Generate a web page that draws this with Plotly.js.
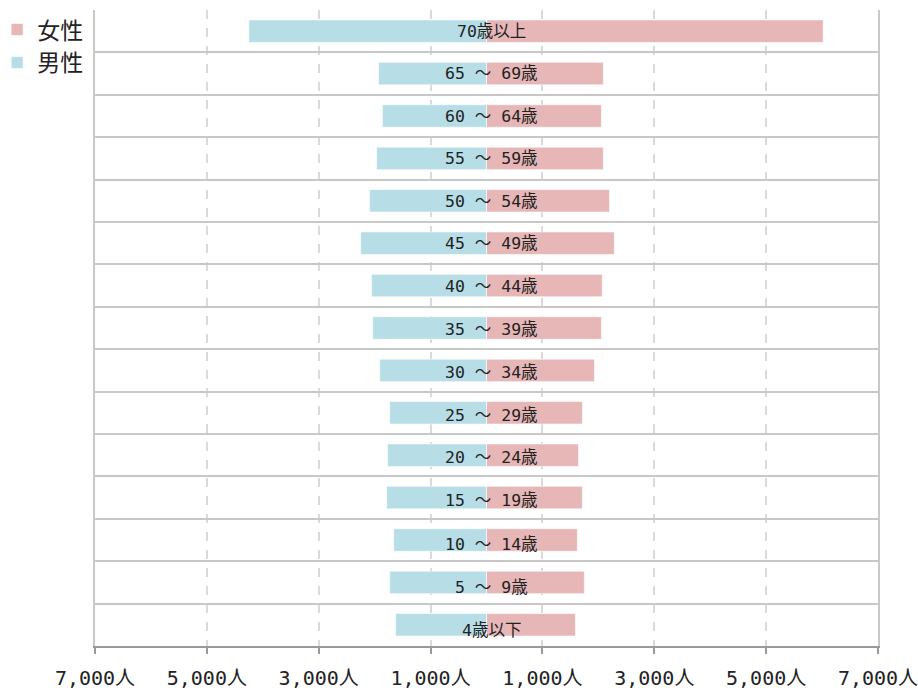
<!DOCTYPE html>
<html>
<head>
<meta charset="utf-8">
<script src="https://cdn.plot.ly/plotly-3.0.1.min.js"></script>
<style>html,body{margin:0;padding:0;background:#fff;}#chart{width:918px;height:691px;}</style>
</head>
<body>
<div id="chart"></div>
<script>
const ageGroups = ["70歳以上","65 ～ 69歳","60 ～ 64歳","55 ～ 59歳","50 ～ 54歳","45 ～ 49歳","40 ～ 44歳","35 ～ 39歳","30 ～ 34歳","25 ～ 29歳","20 ～ 24歳","15 ～ 19歳","10 ～ 14歳","5 ～ 9歳","4歳以下"];
const female = [6020, 2090, 2055, 2090, 2200, 2285, 2070, 2055, 1930, 1715, 1645, 1715, 1625, 1750, 1590];
const male = [4250, 1930, 1860, 1965, 2090, 2250, 2055, 2035, 1910, 1730, 1770, 1785, 1660, 1730, 1625];
const tickValues = [-7000, -5000, -3000, -1000, 1000, 3000, 5000, 7000];
const tickLabels = ["7,000人","5,000人","3,000人","1,000人","1,000人","3,000人","5,000人","7,000人"];
const seriesNames = ["女性","男性"];

const yIdx = ageGroups.map((_, i) => i);
const monoFont = "'DejaVu Sans Mono', 'Noto Sans CJK JP', monospace";

const traces = [
  {
    type: 'bar', orientation: 'h', name: seriesNames[0],
    x: female, y: yIdx, width: 0.53,
    marker: {color: '#e7b6b7', line: {color: 'rgba(255,255,255,0.6)', width: 1}},
    hoverinfo: 'skip'
  },
  {
    type: 'bar', orientation: 'h', name: seriesNames[1],
    x: male.map(v => -v), y: yIdx, width: 0.53,
    marker: {color: '#b7dde7', line: {color: 'rgba(255,255,255,0.6)', width: 1}},
    hoverinfo: 'skip'
  }
];

const annotations = ageGroups.map((g, i) => ({
  x: 0, y: i, xref: 'x', yref: 'y', text: g, showarrow: false,
  xanchor: 'center', yanchor: 'middle', xshift: 5, yshift: -(i * i) / 36,
  font: {family: monoFont, size: 16.5, color: '#222'}
}));

const gridY = [];
for (let i = 0; i <= ageGroups.length; i++) gridY.push(i - 0.5);

const layout = {
  width: 918, height: 691,
  margin: {l: 95, r: 40, t: 10, b: 45, autoexpand: false},
  paper_bgcolor: '#fff', plot_bgcolor: '#fff',
  barmode: 'overlay',
  showlegend: true,
  legend: {
    xref: 'paper', yref: 'paper',
    x: -0.125, y: 1.003, xanchor: 'left', yanchor: 'top',
    font: {family: "'Noto Sans CJK JP', sans-serif", size: 23, color: '#222'},
    traceorder: 'normal', itemwidth: 30, tracegroupgap: 0,
    bgcolor: 'rgba(0,0,0,0)', borderwidth: 0
  },
  xaxis: {
    range: [-7000, 7000], tickmode: 'array', tickvals: tickValues, ticktext: tickLabels,
    tickfont: {family: monoFont, size: 20, color: '#222'},
    ticks: 'outside', ticklen: 6, tickwidth: 2, tickcolor: '#999',
    ticklabeloverflow: 'allow', ticklabelstandoff: 7,
    showline: true, linecolor: '#999', linewidth: 2,
    showgrid: true, gridcolor: '#dadada', gridwidth: 2, griddash: 'dash',
    zeroline: false, fixedrange: true, automargin: false
  },
  yaxis: {
    range: [ageGroups.length - 0.5, -0.5],
    tickmode: 'array', tickvals: gridY, showticklabels: false, ticks: '',
    showgrid: true, gridcolor: '#c8c8c8', gridwidth: 2,
    showline: true, linecolor: '#c8c8c8', linewidth: 2, mirror: true,
    zeroline: false, fixedrange: true, automargin: false
  },
  annotations: annotations
};

Plotly.newPlot('chart', traces, layout, {displayModeBar: false, staticPlot: true});
</script>
</body>
</html>
